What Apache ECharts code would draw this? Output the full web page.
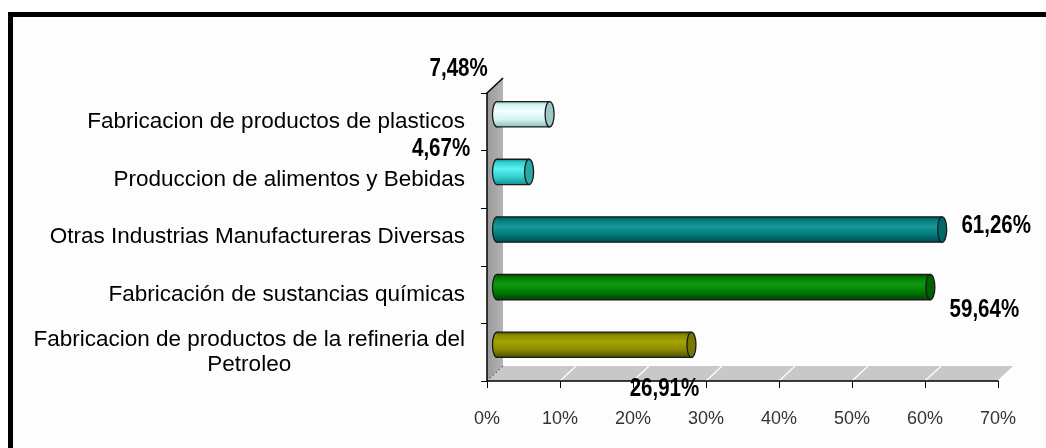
<!DOCTYPE html>
<html>
<head>
<meta charset="utf-8">
<script src="https://cdn.jsdelivr.net/npm/echarts@6/dist/echarts.min.js"></script>
<style>
html,body{margin:0;padding:0;background:#fff;}
#chart{width:1046px;height:448px;}
</style>
</head>
<body>
<div id="chart"></div>
<script>
// ---- data ----
var categories = [
  'Fabricacion de productos de plasticos',
  'Produccion de alimentos y Bebidas',
  'Otras Industrias Manufactureras Diversas',
  'Fabricación de sustancias químicas',
  'Fabricacion de productos de la refineria del\nPetroleo'
];
var values = [7.48, 4.67, 61.26, 59.64, 26.91];
var xTicks = [0, 10, 20, 30, 40, 50, 60, 70];

// ---- styles ----
var barColors = [
  {dark:'#8fbcbc', mid:'#d4f4f4', light:'#f2ffff', cap:'#9cc8c8'},
  {dark:'#168f8f', mid:'#2fd0d0', light:'#5ef0f0', cap:'#2aa8a8'},
  {dark:'#004c4c', mid:'#007a7a', light:'#1a9898', cap:'#006a6a'},
  {dark:'#004400', mid:'#007a00', light:'#119911', cap:'#006000'},
  {dark:'#4c4c00', mid:'#8a8a00', light:'#a3a300', cap:'#767600'}
];
var labelOffsets = [[-91,-45],[-88,-23],[54,-3],[54,23],[-27,44]];
var DX = 16, DY = 15;
var SANS = "'Liberation Sans',Arial,sans-serif";

var chart = echarts.init(document.getElementById('chart'));

function cylGrad(c){
  return new echarts.graphic.LinearGradient(0,0,0,1,[
    {offset:0, color:c.dark},
    {offset:0.12, color:c.mid},
    {offset:0.38, color:c.light},
    {offset:0.7, color:c.mid},
    {offset:1, color:c.dark}
  ]);
}

var option = {
  backgroundColor:'#fdfdfd',
  animation:false,
  graphic:[
    {type:'rect', shape:{x:0,y:0,width:1046,height:12}, style:{fill:'#fff'}, z:100},
    {type:'rect', shape:{x:0,y:0,width:8,height:448}, style:{fill:'#fff'}, z:100},
    {type:'rect', shape:{x:8,y:12,width:1038,height:5}, style:{fill:'#000'}, z:100},
    {type:'rect', shape:{x:8,y:12,width:5,height:436}, style:{fill:'#000'}, z:100}
  ],
  grid:{left:487, right:48, top:93, bottom:67, containLabel:false, outerBoundsMode:'none'},
  xAxis:{
    type:'value', min:0, max:70, interval:10,
    axisLine:{show:true, lineStyle:{color:'#000', width:1.5}},
    axisTick:{show:true, length:7, lineStyle:{color:'#000', width:1}},
    splitLine:{show:false},
    axisLabel:{formatter:'{value}%', fontSize:18, color:'#333', fontFamily:SANS, margin:29}
  },
  yAxis:{
    type:'category', data:categories, inverse:true,
    axisLine:{show:true, lineStyle:{color:'#000', width:1.5}},
    axisTick:{show:true, length:6, lineStyle:{color:'#000', width:1}},
    axisLabel:{
      fontSize:22.5, color:'#000', fontFamily:SANS, margin:22, lineHeight:25,
      formatter:function(v){
        var parts = v.split('\n');
        if(parts.length === 1) return v;
        return parts[0] + '\n{c|' + parts[1] + '}';
      },
      rich:{c:{align:'center', fontSize:22.5, fontFamily:SANS, lineHeight:25, color:'#000'}}
    }
  },
  series:[
    {
      type:'custom', z:-1, silent:true,
      data:[[0,0]],
      encode:{x:0, y:1},
      renderItem:function(params, api){
        var cs = params.coordSys;
        var x0 = cs.x, y0 = cs.y, y1 = cs.y + cs.height, xe = cs.x + cs.width;
        var children = [];
        children.push({type:'polygon', shape:{points:[[x0,y0],[x0+DX,y0-DY],[x0+DX,y1-DY],[x0,y1]]},
          style:{fill:new echarts.graphic.LinearGradient(0,0,1,0,[{offset:0,color:'#9a9a9a'},{offset:1,color:'#b4b4b4'}])}});
        children.push({type:'polygon', shape:{points:[[x0,y1],[xe,y1],[xe+DX,y1-DY],[x0+DX,y1-DY]]},
          style:{fill:'#c8c8c8'}});
        for(var k=1;k<xTicks.length;k++){
          var px = api.coord([xTicks[k], 0])[0];
          children.push({type:'line', shape:{x1:px, y1:y1, x2:px+DX, y2:y1-DY},
            style:{stroke:'#ffffff', lineWidth:1.2}});
        }
        children.push({type:'line', shape:{x1:x0, y1:y1, x2:x0+DX, y2:y1-DY},
          style:{stroke:'#666', lineWidth:1.2, lineDash:[1.5,2.5]}});
        children.push({type:'line', shape:{x1:x0, y1:y0, x2:x0+DX, y2:y0-DY},
          style:{stroke:'#000', lineWidth:1.5}});
        return {type:'group', children:children};
      }
    },
    {
      type:'custom', z:5,
      data:values.map(function(v,i){return [v,i];}),
      encode:{x:0, y:1},
      renderItem:function(params, api){
        var i = api.value(1), v = api.value(0);
        var p0 = api.coord([0, i]), p1 = api.coord([v, i]);
        var band = api.size([0,1])[1];
        var h = band*0.44, r = h/2;
        var cy = p0[1] - DY/2;
        var xs = p0[0] + DX/2 + 2, xe = p1[0] + DX/2;
        var c = barColors[i];
        var g = cylGrad(c);
        var rx = 4.5;
        return {type:'group', children:[
          {type:'ellipse', shape:{cx:xs, cy:cy, rx:rx, ry:r}, style:{fill:g, stroke:'#1a1a1a', lineWidth:1.3}},
          {type:'rect', shape:{x:xs, y:cy-r, width:Math.max(0,xe-xs), height:h}, style:{fill:g}},
          {type:'line', shape:{x1:xs, y1:cy-r, x2:xe, y2:cy-r}, style:{stroke:'#1a1a1a', lineWidth:1.3}},
          {type:'line', shape:{x1:xs, y1:cy+r, x2:xe, y2:cy+r}, style:{stroke:'#1a1a1a', lineWidth:1.3}},
          {type:'ellipse', shape:{cx:xe, cy:cy, rx:rx, ry:r}, style:{fill:c.cap, stroke:'#1a1a1a', lineWidth:1.3}}
        ]};
      }
    },
    {
      type:'custom', z:10,
      data:values.map(function(v,i){return [v,i];}),
      encode:{x:0, y:1},
      renderItem:function(params, api){
        var i = api.value(1), v = api.value(0);
        var p = api.coord([v, i]);
        var o = labelOffsets[i];
        return {type:'text', x:p[0] + DX/2 + o[0], y:p[1] - DY/2 + o[1], scaleX:0.82,
          style:{text:v.toFixed(2).replace('.', ',') + '%', fill:'#000',
            font:'bold 25px ' + SANS, align:'center', verticalAlign:'middle'}};
      }
    }
  ]
};
chart.setOption(option);
</script>
</body>
</html>
